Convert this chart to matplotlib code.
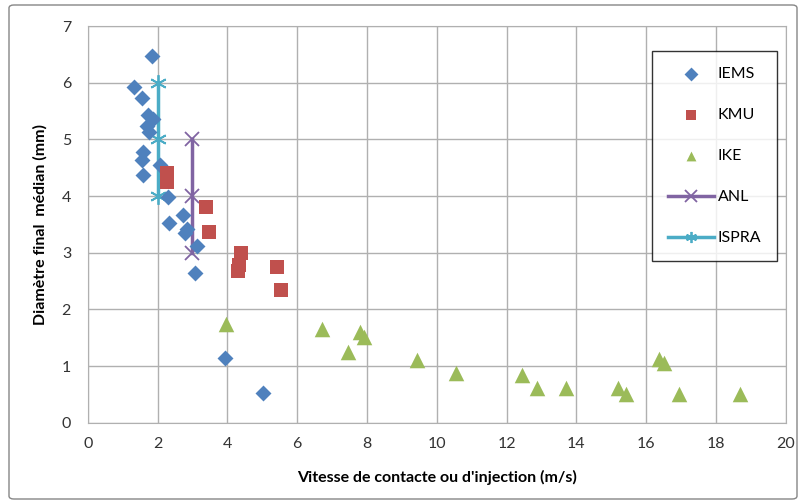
import matplotlib
matplotlib.use("Agg")
import matplotlib.pyplot as plt
from matplotlib.patches import FancyBboxPatch

plt.rcParams['font.family'] = ['Lato', 'DejaVu Sans']

iems_x = [1.85, 1.34, 1.56, 1.74, 1.88, 1.71, 1.77, 1.59, 1.55, 1.59, 2.07, 2.31, 2.34, 2.74, 2.85, 2.79, 3.12, 3.08, 3.93, 5.01]
iems_y = [6.47, 5.93, 5.73, 5.43, 5.36, 5.24, 5.13, 4.78, 4.64, 4.37, 4.55, 3.99, 3.53, 3.66, 3.41, 3.34, 3.11, 2.64, 1.15, 0.52]

kmu_x = [2.26, 2.28, 3.40, 3.48, 4.39, 4.32, 4.30, 5.41, 5.53]
kmu_y = [4.40, 4.25, 3.81, 3.36, 2.99, 2.78, 2.68, 2.74, 2.34]

ike_x = [3.96, 6.70, 7.80, 7.90, 7.47, 9.43, 10.55, 12.45, 12.87, 13.69, 15.20, 15.42, 16.37, 16.51, 16.95, 18.69]
ike_y = [1.74, 1.65, 1.60, 1.52, 1.24, 1.10, 0.88, 0.84, 0.62, 0.62, 0.61, 0.51, 1.12, 1.06, 0.51, 0.51]

anl_x = [3, 3, 3]
anl_y = [5, 4, 3]

ispra_x = [2, 2, 2]
ispra_y = [6, 5, 4]

xticks = list(range(0, 21, 2))
yticks = list(range(0, 8))

fig = plt.figure(figsize=(8.03, 5.04), dpi=100)
ax = fig.add_axes([0.1092, 0.1613, 0.8696, 0.7871])

# outer chart border
border = FancyBboxPatch((9/803, 5/504), (797-9)/803, (499-5)/504,
                        boxstyle="round,pad=0,rounding_size=0.006",
                        transform=fig.transFigure, facecolor='none',
                        edgecolor='#868686', linewidth=1.0)
fig.patches.append(border)

ax.plot(anl_x, anl_y, color='#8064A2', linewidth=2.5, marker='x', markersize=10,
        markeredgewidth=1.3, label='ANL', zorder=2)
ax.plot(ispra_x, ispra_y, color='#4BACC6', linewidth=2.5, marker=(6, 2, 0), markersize=12,
        markeredgewidth=1.3, label='ISPRA', zorder=2)

ax.scatter(iems_x, iems_y, marker='D', s=66, color='#4F81BD', label='IEMS', zorder=3, linewidths=0)
ax.scatter(kmu_x, kmu_y, marker='s', s=115, color='#C0504D', label='KMU', zorder=3, linewidths=0)
ax.scatter(ike_x, ike_y, marker='^', s=125, color='#9BBB59', label='IKE', zorder=3, linewidths=0)

ax.set_xlim(0, 20)
ax.set_ylim(0, 7)
ax.set_xticks(xticks)
ax.set_yticks(yticks)
ax.grid(True, color='#B0B0B0', linewidth=1.0, zorder=0)
ax.set_axisbelow(True)
for s in ax.spines.values():
    s.set_color('#B0B0B0')
ax.tick_params(length=0, labelsize=11.5, colors='#333333', pad=10)
ax.tick_params(axis='y', pad=12)

ax.set_xlabel("Vitesse de contacte ou d'injection (m/s)", fontsize=11.5, fontweight='bold', labelpad=14)
ax.set_ylabel("Diamètre final  médian (mm)", fontsize=11.5, fontweight='bold', labelpad=10)

handles, labels = ax.get_legend_handles_labels()
order = [labels.index(n) for n in ['IEMS', 'KMU', 'IKE', 'ANL', 'ISPRA']]
leg = fig.legend([handles[i] for i in order], [labels[i] for i in order],
                 loc='upper left', bbox_to_anchor=(652/803, 1 - 51/504),
                 frameon=True, fancybox=False, edgecolor='black', fontsize=11.5,
                 labelspacing=1.68, borderpad=1.0, handlelength=2.9, handletextpad=0.2,
                 borderaxespad=0)
leg.get_frame().set_linewidth(1.0)
for h in leg.legend_handles:
    try:
        h.set_sizes([50])
    except Exception:
        try:
            h.set_markersize(8)
        except Exception:
            pass

fig.savefig('out.png', dpi=100)
